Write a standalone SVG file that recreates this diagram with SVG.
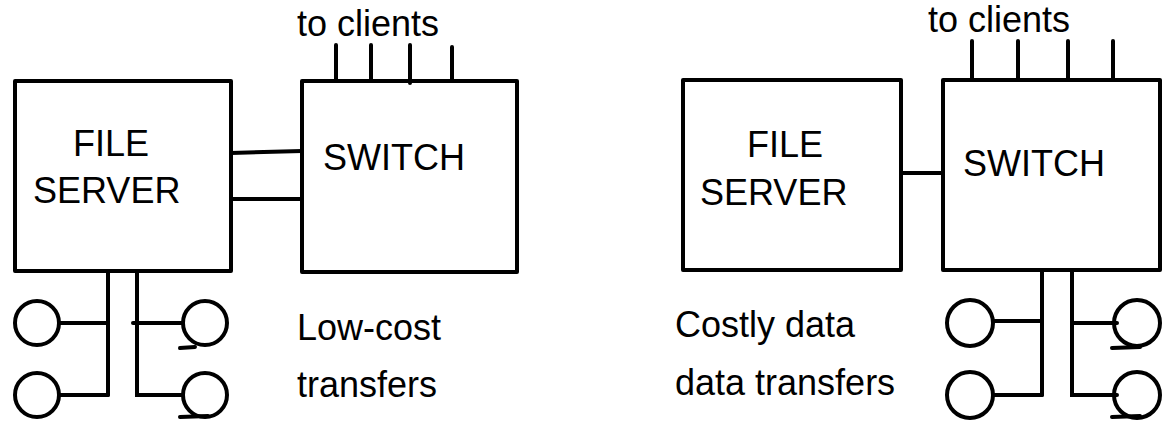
<svg xmlns="http://www.w3.org/2000/svg" width="1162" height="421" viewBox="0 0 1162 421">
<style>
.box{fill:none;stroke:#000;stroke-width:4;stroke-linejoin:round}
.ln{fill:none;stroke:#000;stroke-width:4;stroke-linecap:round}
.c{fill:none;stroke:#000;stroke-width:4}
.t{font-family:"Liberation Sans",Arial,sans-serif;font-size:36px;fill:#000}
</style>
<rect width="1162" height="421" fill="#fff"/>
<!-- Left diagram -->
<g id="fs1"><rect class="box" x="15" y="81" width="216" height="190"/>
<text class="t" x="73" y="156">FILE</text><text class="t" x="33" y="203">SERVER</text></g>
<g id="sw1"><rect class="box" x="302" y="81" width="215" height="191"/>
<text class="t" x="323" y="170">SWITCH</text></g>
<text class="t" x="297" y="36">to clients</text>
<g id="d1a"><circle class="c" cx="37" cy="323" r="22"/></g>
<g id="d1b"><circle class="c" cx="37" cy="395" r="22"/></g>
<g id="d1c"><circle class="c" cx="205" cy="323" r="22"/></g>
<g id="d1d"><circle class="c" cx="205" cy="395" r="22"/></g>
<text class="t" x="297" y="340">Low-cost</text>
<text class="t" x="297" y="397">transfers</text>
<!-- Right diagram -->
<g id="fs2"><rect class="box" x="683" y="80" width="218" height="190"/>
<text class="t" x="747" y="157">FILE</text><text class="t" x="700" y="205">SERVER</text></g>
<g id="sw2"><rect class="box" x="943" y="80" width="217" height="190"/>
<text class="t" x="963" y="176">SWITCH</text></g>
<text class="t" x="928" y="32">to clients</text>
<g id="d2a"><circle class="c" cx="970" cy="323" r="23"/></g>
<g id="d2b"><circle class="c" cx="970" cy="395" r="23"/></g>
<g id="d2c"><circle class="c" cx="1137" cy="323" r="23"/></g>
<g id="d2d"><circle class="c" cx="1137" cy="395" r="23"/></g>
<text class="t" x="675" y="337">Costly data</text>
<text class="t" x="675" y="395">data transfers</text>
<g id="connectors">
<line class="ln" x1="231" y1="153" x2="302" y2="151"/>
<line class="ln" x1="231" y1="199" x2="302" y2="199"/>
<line class="ln" x1="336" y1="45" x2="336" y2="81"/>
<line class="ln" x1="371" y1="45" x2="371" y2="81"/>
<line class="ln" x1="410" y1="45" x2="410" y2="83"/>
<line class="ln" x1="452" y1="47" x2="452" y2="81"/>
<line class="ln" x1="108" y1="271" x2="108" y2="395"/>
<polyline class="ln" points="137,271 137,395 182,395"/>
<line class="ln" x1="59" y1="323" x2="108" y2="323"/>
<line class="ln" x1="59" y1="395" x2="108" y2="395"/>
<line class="ln" x1="133" y1="323" x2="182" y2="323"/>
<line class="ln" x1="180" y1="348" x2="195" y2="347"/>
<line class="ln" x1="180" y1="417" x2="208" y2="416"/>
<line class="ln" x1="901" y1="173" x2="943" y2="173"/>
<line class="ln" x1="972" y1="41" x2="972" y2="80"/>
<line class="ln" x1="1018" y1="41" x2="1018" y2="80"/>
<line class="ln" x1="1068" y1="41" x2="1068" y2="80"/>
<line class="ln" x1="1113" y1="41" x2="1113" y2="80"/>
<line class="ln" x1="1042" y1="270" x2="1042" y2="395"/>
<polyline class="ln" points="1072,270 1072,395 1117,395"/>
<line class="ln" x1="993" y1="321" x2="1042" y2="321"/>
<line class="ln" x1="993" y1="395" x2="1042" y2="395"/>
<line class="ln" x1="1072" y1="323" x2="1117" y2="323"/>
<line class="ln" x1="1112" y1="348" x2="1140" y2="347"/>
<line class="ln" x1="1112" y1="417" x2="1140" y2="416"/>
</g>
</svg>
